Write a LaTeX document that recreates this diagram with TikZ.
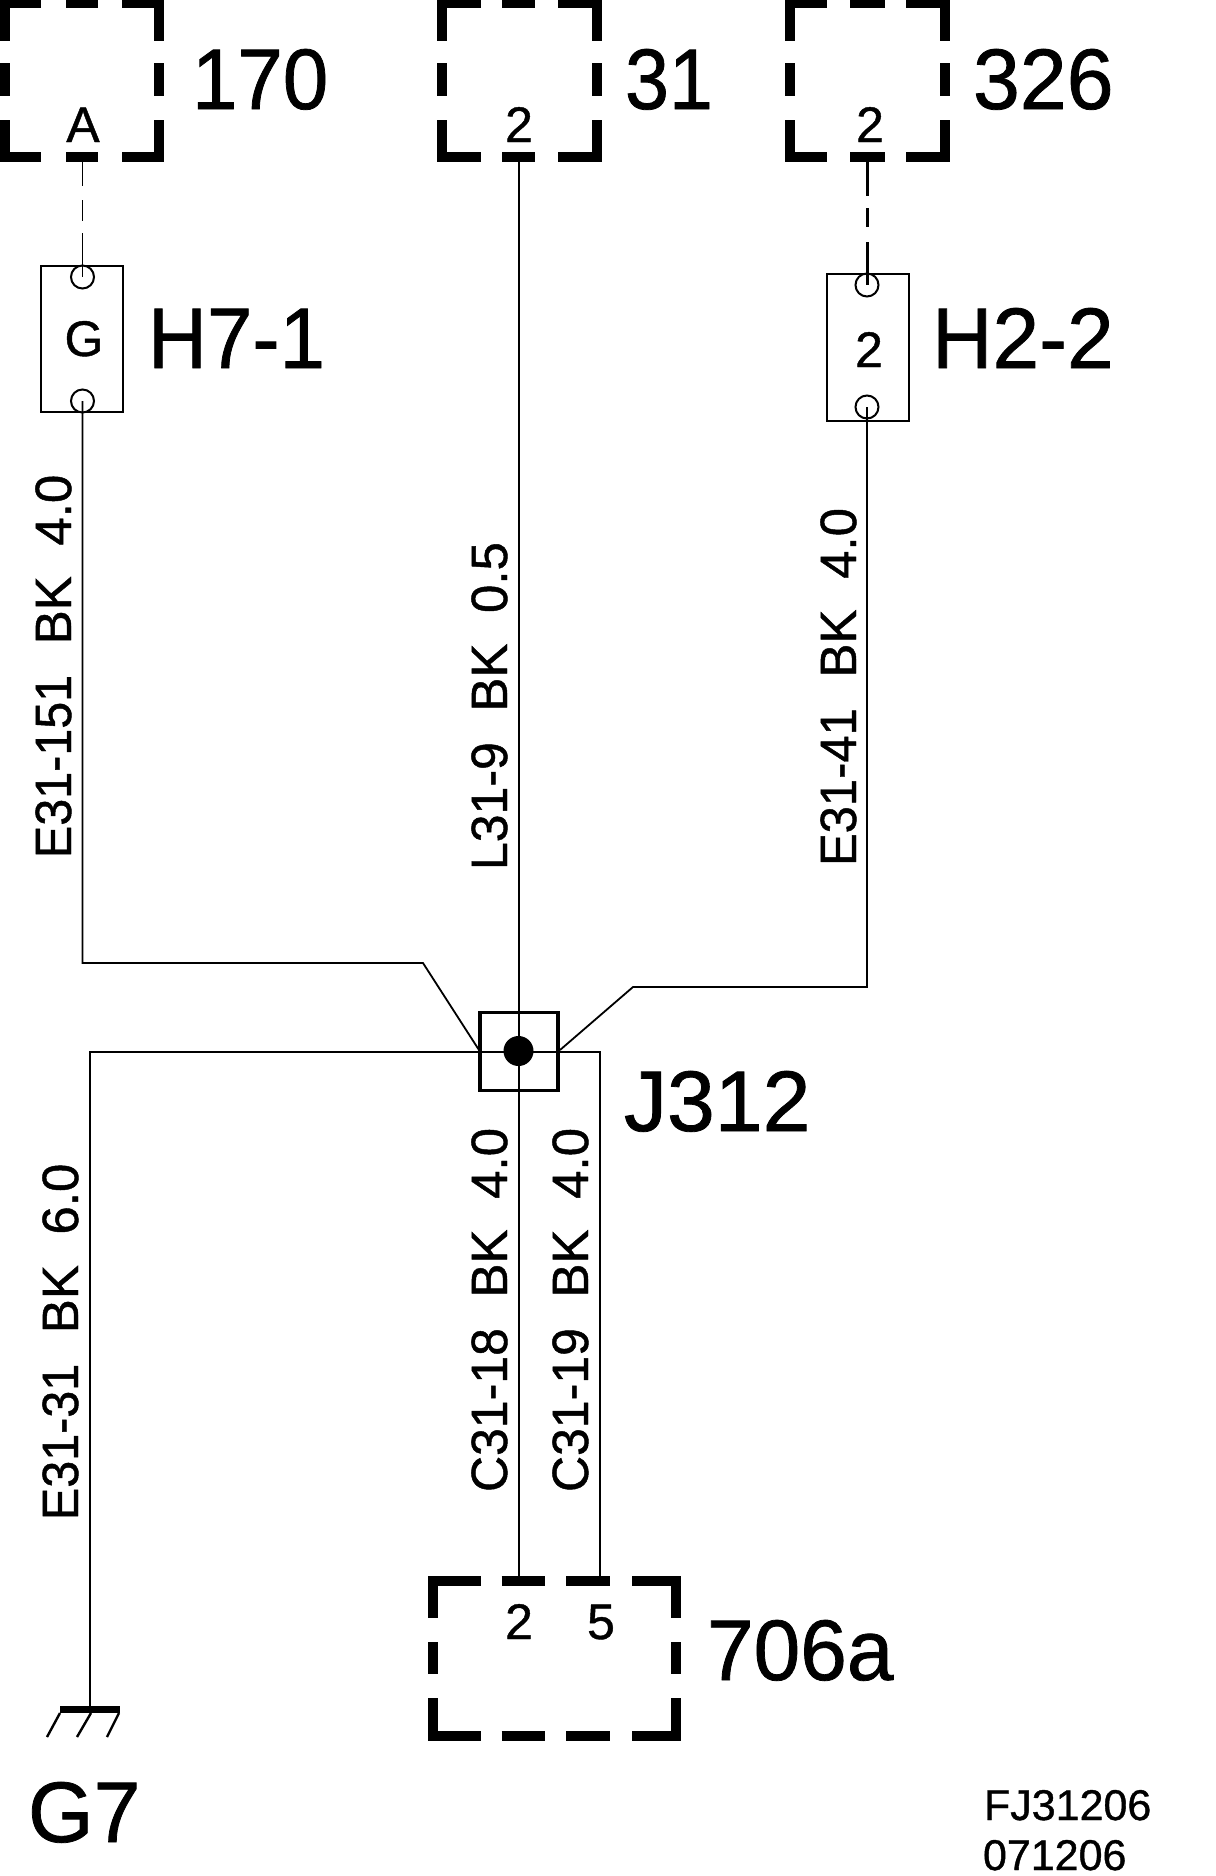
\documentclass[tikz,border=0pt]{standalone}
\usepackage{graphicx}
\usepackage{fontspec}
\setmainfont{Liberation Sans}[RawFeature={embolden=0.9}]
\newcommand{\gp}{\hspace{.6em}}
\newcommand{\nw}[2]{\scalebox{#1}[1]{#2}}
\tikzset{
  x=0.5pt,y=-0.5pt,
  wire/.style={line width=0.9pt,black},
  frame/.style={line width=5pt,black},
  pin/.style={line width=1pt,draw=black,fill=none,rectangle,minimum width=41pt,inner sep=0pt},
  hole/.style={circle,draw=black,line width=1pt,minimum size=11.5pt,inner sep=0pt,fill=white},
  big/.style={inner sep=0pt,outer sep=0pt,font=\fontsize{43}{43}\selectfont,anchor=base west,transform shape},
  small/.style={inner sep=0pt,outer sep=0pt,font=\fontsize{25}{25}\selectfont,anchor=base},
  wlabel/.style={inner sep=0pt,outer sep=0pt,font=\fontsize{25.5}{25.5}\selectfont,anchor=base west,rotate=90},
  tiny/.style={inner sep=0pt,outer sep=0pt,font=\fontsize{21.5}{21.5}\selectfont,anchor=base west},
}
\begin{document}
\begin{tikzpicture}
\useasboundingbox (0,0) rectangle (1216,1876);
% connector frames
\foreach \l/\a/\b/\c/\d/\r in {5/41/66/98/122/159, 442/481/502/535/558/597, 790/827/850/885/906/944.5}{
  \draw[frame] (\l,3) -- (\l,41) (\l,63) -- (\l,96) (\l,120) -- (\l,156.5);
  \draw[frame] (\r,3) -- (\r,41) (\r,63) -- (\r,96) (\r,120) -- (\r,156.5);
  \draw[frame] (\l-5,3) -- (\a,3) (\b,3) -- (\c,3) (\d,3) -- (\r+5,3);
  \draw[frame] (\l-5,156.5) -- (\a,156.5) (\b,156.5) -- (\c,156.5) (\d,156.5) -- (\r+5,156.5);
}
\draw[frame] (433,1581) -- (433,1618) (433,1642) -- (433,1674) (433,1698) -- (433,1736);
\draw[frame] (676,1581) -- (676,1618) (676,1642) -- (676,1674) (676,1698) -- (676,1736);
\draw[frame] (428,1581) -- (481,1581) (501.5,1581) -- (545,1581) (566,1581) -- (610,1581) (632,1581) -- (681,1581);
\draw[frame] (428,1736) -- (481,1736) (501.5,1736) -- (545,1736) (566,1736) -- (610,1736) (632,1736) -- (681,1736);
% anchors on the connectors
\coordinate (p170) at (82.5,162);
\coordinate (p31) at (519,162);
\coordinate (p326) at (867,162);
\coordinate (p2) at (519,1576);
\coordinate (p5) at (600,1576);
\coordinate (gnd) at (90,1706);
\coordinate (lbend) at (423,963);
\coordinate (lbend0) at (82.5,963);
\coordinate (rbend) at (633,987);
\coordinate (rbend0) at (867,987);
\coordinate (hl) at (90,1052);
\coordinate (hr) at (600,1052);
% splices
\node[pin,minimum height=73pt] (h7) at (81.5,339) {};
\node[pin,minimum height=73.5pt] (h2) at (867.5,347.5) {};
\node[hole] (h7a) at (82.5,277) {};
\node[hole] (h7b) at (82.5,401) {};
\node[hole] (h2a) at (867,285) {};
\node[hole] (h2b) at (867,407) {};
\node[small] at (84,356) {G};
\node[small] at (869,367) {2};
% wires
\draw[wire,dash pattern=on 12pt off 7pt on 10.5pt off 6pt on 40pt] (p170) -- (h7a.center);
\draw[wire,line width=1.5pt,dash pattern=on 17pt off 6pt on 9.5pt off 7.5pt on 40pt] (p326) -- (h2a.center);
\draw[wire] (p31) -- (p31 |- hl);
\draw[wire] (h7b.center) -- (lbend0) -- (lbend) -- (479,1050);
\draw[wire] (h2b.center) -- (rbend0) -- (rbend) -- (560,1050);
\draw[wire] (gnd) -- (hl) -- (hr) -- (p5);
\draw[wire] (519,1052) -- (p2);
% junction
\node[draw=black,line width=1.7pt,minimum size=39pt,inner sep=0pt] (j) at (519,1051.5) {};
\fill (518.5,1051) circle (15);
% ground
\draw[line width=3.5pt] (60,1709.5) -- (120,1709.5);
\draw[line width=1.2pt] (60,1713) -- (47,1737) (91,1713) -- (77,1737) (119,1713) -- (107,1737);
% big labels
\node[big,xscale=.95] (n170) at (192,109) {170};
\node[big,xscale=.92] (n31) at (625,109) {31};
\node[big,xscale=.98] (n326) at (973,109) {326};
\node[big,xscale=.95] (nh7) at (148,368) {H7-1};
\node[big,xscale=.975] (nh2) at (932,368) {H2-2};
\node[big] (nj) at (624,1131) {J312};
\node[big,xscale=.975] (n706) at (707,1680) {706a};
\node[big,xscale=.98] (ng7) at (28,1842) {G7};
% pin labels
\node[small] at (83,142) {A};
\node[small] at (519,142) {2};
\node[small] at (870,142) {2};
\node[small] at (519,1639) {2};
\node[small] at (601,1639) {5};
% wire labels
\node[wlabel] at (71,858) {\nw{.95}{E31-151}\gp BK\gp 4.0};
\node[wlabel] at (507,870) {\nw{.98}{L31-9}\gp BK\gp 0.5};
\node[wlabel] at (856,866) {\nw{.96}{E31-41}\gp BK\gp 4.0};
\node[wlabel] at (78,1520) {\nw{.95}{E31-31}\gp BK\gp 6.0};
\node[wlabel] at (507,1492) {\nw{.98}{C31-18}\gp BK\gp 4.0};
\node[wlabel] at (588,1492) {\nw{.98}{C31-19}\gp BK\gp 4.0};
% stamp
\node[tiny] at (984,1820) {FJ31206};
\node[tiny] at (983,1870) {071206};
\end{tikzpicture}
\end{document}
